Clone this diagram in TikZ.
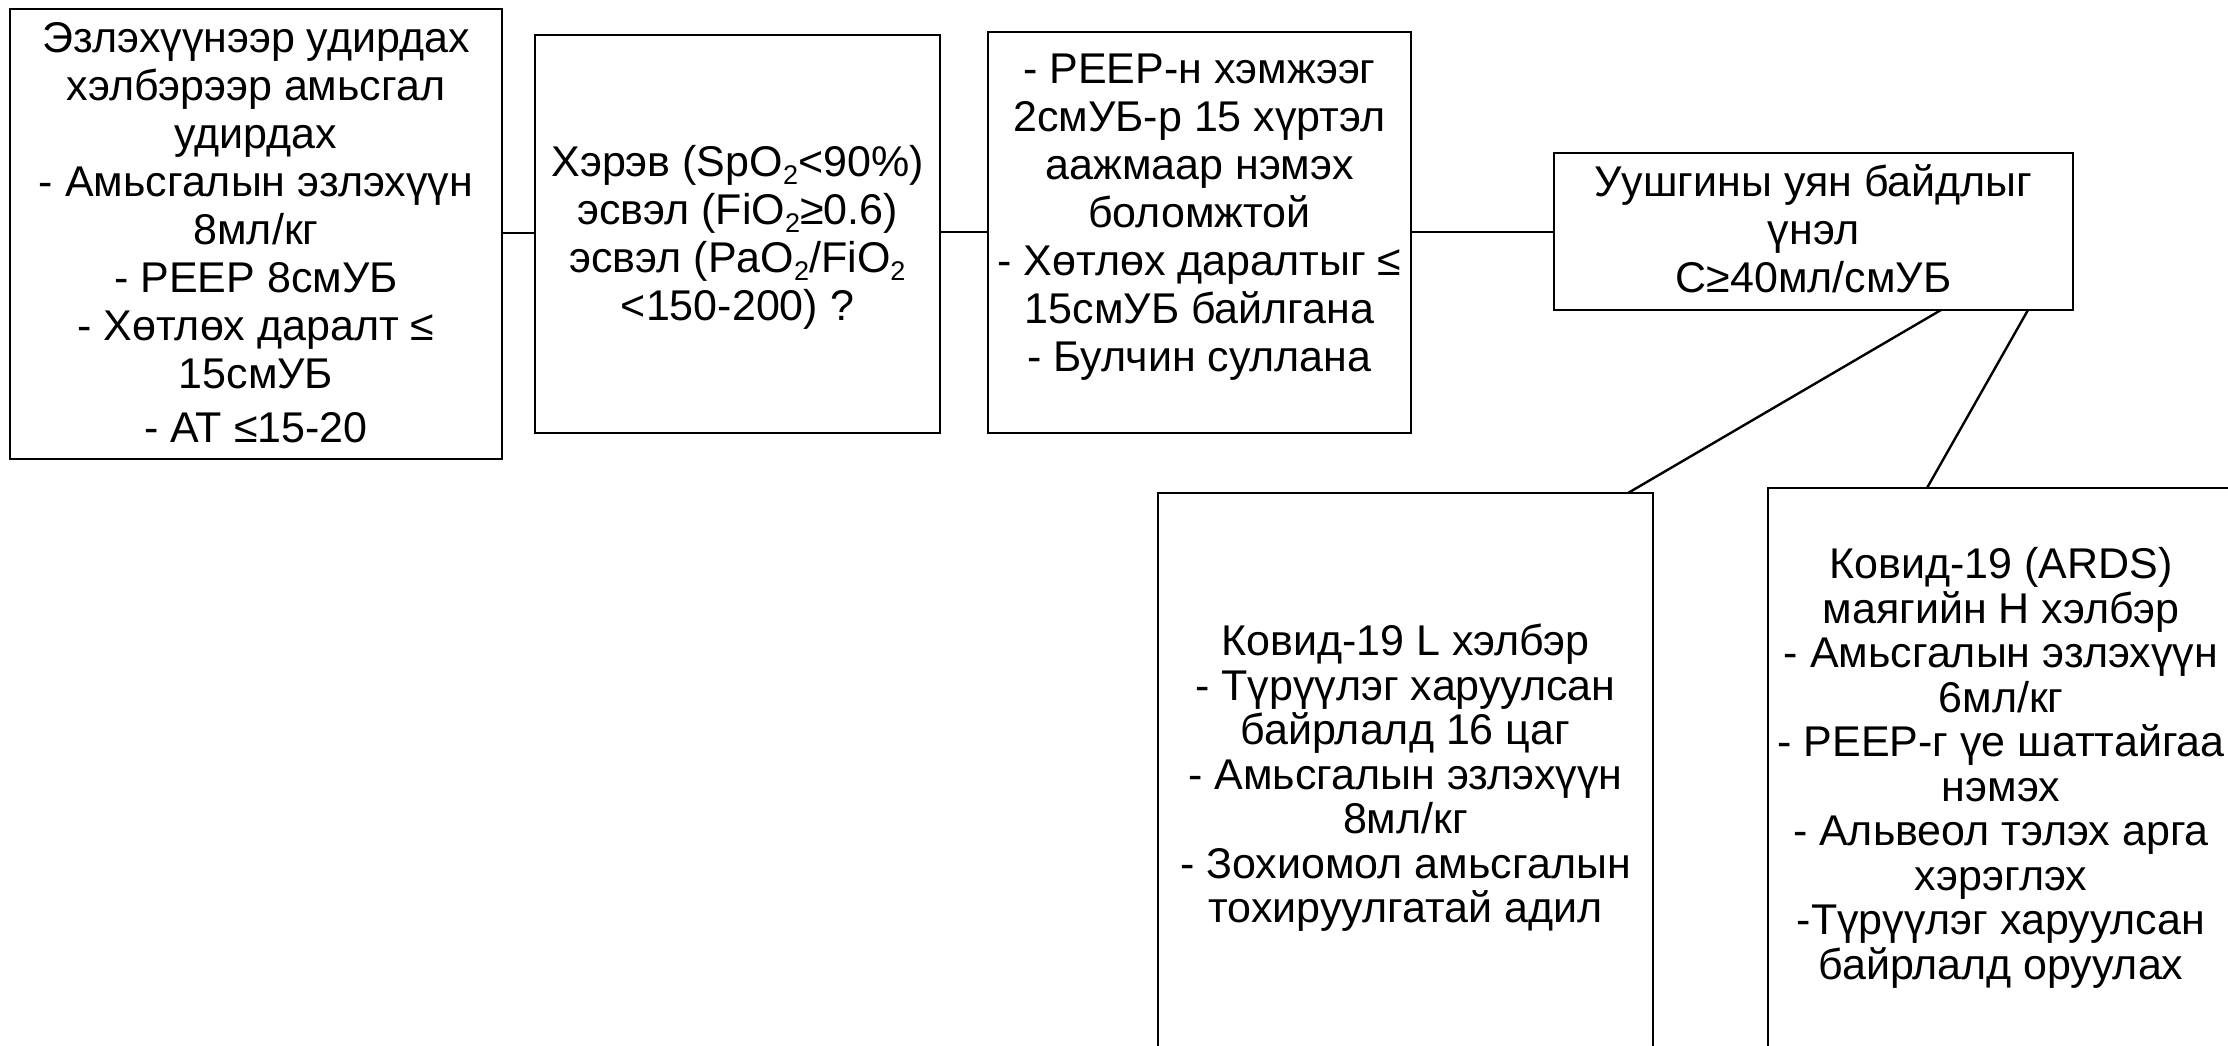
\documentclass[tikz,border=0pt]{standalone}
\usepackage{fontspec}
\setmainfont{Liberation Sans}
\usetikzlibrary{calc}
\newcommand\subtwo{\raisebox{-0.2em}{\fontsize{27}{27}\selectfont 2}}
\begin{document}
\begin{tikzpicture}[x=1pt,y=-1pt,
  boxstyle/.style={draw=black, line width=2.4pt, outer sep=0pt, inner sep=0pt, fill=none},
  txtstyle/.style={align=center, inner sep=0pt, font=\fontsize{43}{48}\selectfont},
  lowtxt/.style={align=center, inner sep=0pt, font=\fontsize{43}{44.5}\selectfont},
  wire/.style={draw=black, line width=2.4pt}]
\useasboundingbox (0,0) rectangle (2228,1045);
\fill[white] (0,0) rectangle (2228,1045);
\begin{scope}
\clip (0,0) rectangle (2228,1045);
% boxes
\node[boxstyle, minimum width=492, minimum height=450] (b1) at (256,234) {};
\node[boxstyle, minimum width=405, minimum height=398] (b2) at (737.5,234) {};
\node[boxstyle, minimum width=423, minimum height=401] (b3) at (1199.5,232.5) {};
\node[boxstyle, minimum width=519, minimum height=157] (b4) at (1813.5,231.5) {};
\node[boxstyle, minimum width=495, minimum height=620] (b5) at (1405.5,803) {};
\node[boxstyle, minimum width=490, minimum height=620] (b6) at (2013,798) {};
% texts
\node[txtstyle] (t1) at (256,233) {Эзлэхүүнээр удирдах\\хэлбэрээр амьсгал\\удирдах\\- Амьсгалын эзлэхүүн\\8мл/кг\\- PEEP 8смУБ\\- Хөтлөх даралт ≤\\15смУБ\\[6pt]- АТ ≤15-20};
\node[txtstyle] (t2) at (737.5,237) {Хэрэв (SpO\subtwo{}<90\%)\\эсвэл (FiO\subtwo{}≥0.6)\\эсвэл (PaO\subtwo{}/FiO\subtwo\\<150-200) ?};
\node[txtstyle] (t3) at (1199.5,217) {- PEEP-н хэмжээг\\2смУБ-р 15 хүртэл\\аажмаар нэмэх\\боломжтой\\- Хөтлөх даралтыг ≤\\15смУБ байлгана\\- Булчин суллана};
\node[txtstyle] (t4) at (1813.5,229) {Уушгины уян байдлыг\\үнэл\\C≥40мл/смУБ};
\node[lowtxt] (t5) at (1405.5,778) {Ковид-19 L хэлбэр\\- Түрүүлэг харуулсан\\байрлалд 16 цаг\\- Амьсгалын эзлэхүүн\\8мл/кг\\- Зохиомол амьсгалын\\тохируулгатай адил};
\node[lowtxt] (t6) at (2001,768) {Ковид-19 (ARDS)\\маягийн H хэлбэр\\- Амьсгалын эзлэхүүн\\6мл/кг\\- PEEP-г үе шаттайгаа\\нэмэх\\- Альвеол тэлэх арга\\хэрэглэх\\-Түрүүлэг харуулсан\\байрлалд оруулах};
% connectors
\draw[wire] (b1.east |- 0,233) -- (b2.west |- 0,233);
\draw[wire] (b2.east |- 0,232) -- (b3.west |- 0,232);
\draw[wire] (b3.east |- 0,232) -- (b4.west |- 0,232);
\draw[wire] ($(b4.south west)+(387,0)$) -- ($(b5.north west)+(470,0)$);
\draw[wire] ($(b4.south west)+(474,0)$) -- ($(b6.north west)+(159,0)$);
\end{scope}
\end{tikzpicture}
\end{document}
